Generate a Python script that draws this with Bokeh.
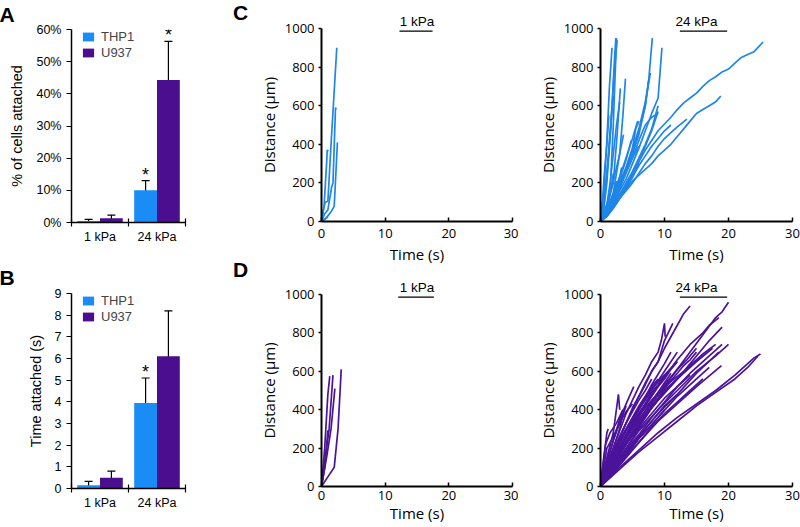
from bokeh.plotting import figure
from bokeh.layouts import row, column
from bokeh.models import (Range1d, FixedTicker, ColumnDataSource, Whisker, TeeHead,
                          Legend, LegendItem, PrintfTickFormatter, Div)
from bokeh.embed import file_html
from bokeh.resources import INLINE
from bokeh.core.properties import value

# ---------------- data ----------------
stiffness = ["1 kPa", "24 kPa"]
cell_lines = ["THP1", "U937"]
panel_letters = ["A", "B", "C", "D"]

pct_thp1 = [0.5, 10.0]
pct_thp1_err = [0.5, 3.0]
pct_u937 = [1.3, 44.3]
pct_u937_err = [1.0, 12.0]
pct_thp1_star = [False, True]
pct_u937_star = [False, True]

time_thp1 = [0.15, 3.95]
time_thp1_err = [0.18, 1.15]
time_u937 = [0.5, 6.1]
time_u937_err = [0.3, 2.1]
time_thp1_star = [False, True]
time_u937_star = [False, False]

pct_ticks = [0, 10, 20, 30, 40, 50, 60]
time_ticks = [0, 1, 2, 3, 4, 5, 6, 7, 8, 9]
dist_ticks = [0, 200, 400, 600, 800, 1000]
t_ticks = [0, 10, 20, 30]

# THP1 on 1 kPa
thp1_1_t = [
    [0, 0.3, 0.6, 1.0, 1.5, 2.4],
    [0, 0.4, 0.8, 0.9, 1.1],
    [0, 0.5, 1.0, 1.6, 1.8, 2.2, 2.3],
    [0, 0.8, 1.5, 2.0, 2.5],
    [0, 0.5, 1.0],
]
thp1_1_d = [
    [0, 60, 100, 105, 400, 900],
    [0, 80, 300, 370, 365],
    [0, 40, 60, 180, 200, 590, 580],
    [0, 20, 50, 80, 410],
    [0, 10, 25],
]

# THP1 on 24 kPa
thp1_24_t = [
    [0, 0.5, 1.0, 1.4, 1.8],
    [0, 0.6, 1.2, 1.8, 2.2, 2.4],
    [0, 0.5, 1.0, 1.6, 2.1, 2.6],
    [0, 0.8, 1.5, 2.0, 2.5],
    [0, 1.0, 2.0, 2.6, 3.1],
    [0, 1.0, 2.0, 3.0, 3.5, 3.9],
    [0, 1.0, 2.0, 3.0, 3.3],
    [0, 1, 2, 3, 4, 5, 6, 7, 7.5, 8.1],
    [0, 1, 2, 3, 4, 5, 6, 7, 8, 9, 9.6],
    [0, 1, 2, 3, 4, 5, 6, 7, 7.8],
    [0, 1, 2, 3, 4, 5, 6, 7, 7.5],
    [0, 1, 2, 3, 4, 5, 6, 7, 8, 9],
    [0, 1, 2, 3, 4, 5, 6, 7, 8, 9],
    [0, 1, 2, 3, 4, 5, 5.5, 6],
    [0, 1, 2, 3, 4, 5, 6, 7, 8, 9, 10, 11, 12, 13, 14, 15, 16, 17, 18, 19, 20, 21, 22, 23, 24, 25.4],
    [0, 1, 2, 3, 4, 5, 6, 7, 8, 9, 10, 11, 12, 13, 14, 15, 16, 17, 18, 18.8],
    [0, 1, 2, 3, 4, 5, 6, 7, 8, 9, 10, 11, 12, 13.5],
    [0, 1, 2, 3, 4, 5, 6, 7, 8, 9, 10, 11],
    [0, 1, 2, 3, 4, 5, 6],
    [0, 0.5, 1, 1.5, 2, 2.5, 3],
    [0, 0.5, 1.0, 1.5, 2.0],
    [0, 0.3, 0.6, 1.0, 1.3],
    [0, 1, 2, 3, 4, 5, 5.8],
    [0, 1, 2, 3, 4, 5, 6],
    [0, 1, 2, 3, 4, 4.8],
    [0, 1, 2, 3, 3.6],
    [0, 0.5, 1, 2, 2.8],
    [0, 1, 2, 3, 4, 5, 6, 7, 8, 9],
    [0, 0.3, 0.7, 1.2, 1.6, 2.0],
    [0, 0.4, 0.9, 1.4, 2.0, 2.5],
    [0, 0.5, 1.2, 2.0, 2.8, 3.4],
]
thp1_24_d = [
    [0, 150, 420, 700, 900],
    [0, 120, 330, 600, 850, 950],
    [0, 60, 200, 480, 760, 940],
    [0, 40, 150, 500, 950],
    [0, 80, 200, 450, 690],
    [0, 60, 150, 350, 550, 740],
    [0, 50, 130, 230, 280],
    [0, 40, 100, 180, 260, 360, 470, 600, 720, 950],
    [0, 30, 90, 160, 220, 300, 380, 470, 560, 640, 900],
    [0, 50, 110, 200, 280, 380, 480, 620, 770],
    [0, 40, 120, 190, 270, 350, 450, 600, 730],
    [0, 30, 80, 140, 200, 260, 330, 400, 480, 600],
    [0, 25, 70, 120, 180, 240, 310, 390, 470, 570],
    [0, 50, 120, 200, 280, 380, 480, 520],
    [0, 40, 90, 140, 190, 250, 310, 370, 420, 470, 505, 540, 580, 615, 640, 665, 700, 730, 750, 775, 790, 820, 850, 865, 880, 930],
    [0, 35, 70, 120, 170, 210, 240, 270, 300, 340, 370, 400, 440, 480, 520, 560, 580, 600, 620, 650],
    [0, 40, 80, 120, 160, 200, 250, 300, 340, 390, 430, 460, 490, 530],
    [0, 45, 90, 140, 180, 230, 290, 340, 390, 430, 470, 500],
    [0, 40, 100, 180, 260, 330, 390],
    [0, 30, 90, 200, 350, 500, 620],
    [0, 80, 250, 450, 650],
    [0, 100, 250, 400, 550],
    [0, 60, 140, 230, 330, 430, 520],
    [0, 30, 70, 120, 170, 230, 300],
    [0, 60, 130, 220, 320, 420],
    [0, 90, 210, 350, 450],
    [0, 20, 50, 120, 200],
    [0, 40, 100, 170, 250, 330, 420, 500, 540, 560],
    [0, 20, 45, 90, 160, 250],
    [0, 15, 40, 80, 140, 210],
    [0, 25, 60, 110, 180, 240],
]

# U937 on 1 kPa
u937_1_t = [
    [0, 0.5, 1.0, 1.3],
    [0, 0.6, 1.2, 1.8],
    [0, 0.8, 1.5, 2.1],
    [0, 1.0, 2.0, 2.6, 3.1],
    [0, 0.5, 1.0, 1.2],
]
u937_1_d = [
    [0, 200, 480, 575],
    [0, 150, 300, 580],
    [0, 150, 300, 510],
    [0, 50, 100, 300, 610],
    [0, 100, 290, 290],
]

# U937 on 24 kPa
u937_24_t = [
    [0, 1, 2, 3, 4, 5, 6, 7, 8, 9, 10, 11, 12, 13, 14],
    [0, 1, 2, 3, 4, 5, 6, 7, 8, 9, 9.5, 10, 10.1],
    [0, 1, 2, 3, 4, 5, 6, 7, 8, 9, 10, 11.3],
    [0, 2, 4, 6, 8, 10, 12, 14, 16, 18, 19, 20],
    [0, 2, 4, 6, 8, 10, 12, 14, 16, 17, 18.5],
    [0, 3, 6, 9, 12, 15, 17, 19],
    [0, 3, 6, 9, 12, 15, 18, 20],
    [0, 3, 6, 9, 12, 15, 17.5],
    [0, 3, 6, 9, 12, 15, 18.5],
    [0, 3, 6, 9, 12, 15, 18.9],
    [0, 3, 6, 9, 12, 15, 18, 21, 23, 24, 25],
    [0, 3, 6, 9, 12, 15, 18, 21, 23, 24.6],
    [0, 1, 2, 2.8, 3.0],
    [0, 1, 2, 3, 4, 5.2],
    [0, 0.5, 1.0, 1.2],
    [0, 1, 2, 3, 3.5],
    [0, 2, 4, 6, 8, 10, 13],
    [0, 2, 4, 6, 8, 10, 12],
    [0, 2, 4, 6, 8, 10, 12, 14, 16],
    [0, 2, 4, 6, 8, 10, 12, 14],
    [0, 1, 2, 3, 4, 5, 6, 7, 8],
    [0, 2, 4, 6, 8, 10, 11],
    [0, 2, 4, 6, 8, 10, 12],
    [0, 1, 2, 3, 4, 5, 6, 7],
    [0, 1, 2, 3, 4, 5, 6, 7, 8, 9],
    [0, 2, 4, 6, 8, 10, 12, 14, 16],
    [0, 1, 2, 3, 4, 5],
    [0, 0.8, 1.5, 2.5, 3.5],
    [0, 2, 4, 6, 8, 10, 12, 14, 16, 18],
    [0, 3, 6, 9, 12, 15, 17],
    [0, 1, 2, 3, 4, 5, 6],
    [0, 2, 4, 6, 8, 10],
    [0, 2, 4, 6, 8, 10, 12],
    [0, 2, 4, 6, 8, 10, 11],
    [0, 1, 2, 3, 4, 5, 6, 7, 8, 9, 10, 11, 12],
    [0, 1.5, 3, 4.5, 6, 7.5, 9, 10.5, 12, 13.5, 15],
    [0, 1, 2, 3, 4],
    [0, 1, 2, 3, 4, 5, 6, 7, 8, 9, 10],
    [0, 2, 4, 6, 8, 10, 12, 14, 16, 18, 19],
    [0, 1, 2, 3, 4, 5, 6, 7, 8, 9, 10, 11, 12, 13, 14, 15],
]
u937_24_d = [
    [0, 100, 180, 260, 330, 410, 470, 540, 600, 650, 720, 780, 840, 900, 940],
    [0, 110, 200, 290, 380, 450, 520, 580, 650, 700, 760, 850, 780],
    [0, 90, 170, 250, 330, 400, 470, 530, 600, 650, 760, 850],
    [0, 120, 230, 330, 430, 520, 610, 700, 790, 880, 910, 960],
    [0, 140, 260, 380, 480, 570, 660, 740, 800, 840, 880],
    [0, 170, 330, 450, 560, 680, 760, 830],
    [0, 150, 290, 400, 500, 600, 680, 740],
    [0, 180, 330, 450, 560, 650, 720],
    [0, 140, 260, 380, 480, 590, 700],
    [0, 120, 230, 340, 430, 520, 630],
    [0, 100, 190, 280, 360, 430, 500, 580, 640, 670, 690],
    [0, 90, 180, 260, 340, 420, 490, 560, 620, 680],
    [0, 150, 280, 480, 400],
    [0, 120, 240, 350, 430, 520],
    [0, 150, 280, 300],
    [0, 100, 200, 300, 380],
    [0, 140, 260, 370, 450, 520, 600],
    [0, 160, 300, 410, 510, 580, 650],
    [0, 70, 150, 230, 310, 380, 440, 500, 560],
    [0, 100, 200, 300, 380, 460, 520, 580],
    [0, 90, 180, 260, 330, 390, 450, 500, 560],
    [0, 130, 250, 350, 440, 540, 590],
    [0, 90, 170, 260, 340, 420, 480],
    [0, 60, 130, 200, 260, 320, 380, 420],
    [0, 80, 170, 240, 300, 360, 420, 470, 520, 560],
    [0, 110, 220, 310, 410, 500, 560, 630, 690],
    [0, 200, 260, 330, 390, 430],
    [0, 220, 280, 330, 400],
    [0, 110, 220, 310, 410, 500, 560, 630, 690, 740],
    [0, 130, 250, 360, 470, 560, 620],
    [0, 50, 110, 170, 220, 280, 330],
    [0, 80, 160, 250, 320, 400],
    [0, 150, 290, 400, 500, 600, 700],
    [0, 130, 270, 400, 530, 640, 700],
    [0, 70, 130, 200, 250, 310, 360, 420, 470, 520, 560, 610, 650],
    [0, 90, 180, 260, 340, 420, 490, 550, 610, 660, 720],
    [0, 130, 240, 330, 420],
    [0, 60, 140, 200, 270, 330, 380, 430, 490, 530, 580],
    [0, 100, 190, 270, 360, 440, 520, 590, 650, 710, 740],
    [0, 55, 110, 165, 220, 270, 320, 370, 420, 460, 510, 550, 590, 630, 660, 700],
]

# ---------------- style ----------------
BLUE = "#1a8cf5"
PURPLE = "#4a0e8f"
LINE_BLUE = "#1f86e8"
LINE_PURPLE = "#4b139a"
ARIAL = "Liberation Sans"
SEGOE = "Open Sans"


def style_common(p):
    p.toolbar.logo = None
    p.outline_line_color = None
    p.xgrid.grid_line_color = None
    p.ygrid.grid_line_color = None
    p.background_fill_color = "white"
    p.border_fill_color = "white"


def letter_div(letter, width, height, pad_left):
    html = ('<div style="font-family:\'Liberation Sans\',Arial,sans-serif;font-weight:bold;'
            'font-size:21px;line-height:26px;color:black;margin:0;'
            'padding-left:%dpx;padding-top:0px;">%s</div>' % (pad_left, letter))
    return Div(text=html, width=width, height=height, margin=0)


def bar_panel(v1, e1, s1, v2, e2, s2, ymax, ticks, fmt, ylabel, letter, letter_up,
              width, height, bl, br, bt, bb, star_size):
    p = figure(width=width, height=height, output_backend="svg", toolbar_location=None,
               x_range=Range1d(0, len(stiffness)), y_range=Range1d(0, ymax),
               min_border_left=bl, min_border_right=br, min_border_top=bt,
               min_border_bottom=bb)
    style_common(p)
    # panel letter as the figure title, pushed to the left edge of the canvas
    p.title.text = letter
    p.title.align = "left"
    p.title.offset = -(bl + 1)
    p.title.standoff = letter_up
    p.title.vertical_align = "top"
    p.title.text_font = ARIAL
    p.title.text_font_size = "21px"
    p.title.text_font_style = "bold"
    p.title.text_color = "black"
    centers = [i + 0.5 for i in range(len(stiffness))]
    items = []
    for vals, errs, stars, off, col, name in (
            (v1, e1, s1, -0.2, BLUE, cell_lines[0]),
            (v2, e2, s2, 0.2, PURPLE, cell_lines[1])):
        xs = [c + off for c in centers]
        src = ColumnDataSource(dict(x=xs, top=vals,
                                    upper=[v + e for v, e in zip(vals, errs)],
                                    lower=[max(v - e, 0) for v, e in zip(vals, errs)]))
        r = p.vbar(x="x", top="top", width=0.4, source=src, fill_color=col,
                   line_color=None)
        items.append(LegendItem(label=name, renderers=[r]))
        p.add_layout(Whisker(source=src, base="x", upper="upper", lower="lower",
                             line_color="black", line_width=1.2,
                             upper_head=TeeHead(size=8, line_color="black", line_width=1.2),
                             lower_head=TeeHead(size=8, line_color="black", line_width=1.2)))
        sx = [x for x, s in zip(xs, stars) if s]
        sy = [v + e for v, e, s in zip(vals, errs, stars) if s]
        if sx:
            p.text(x=sx, y=sy, text=["*"] * len(sx), text_align="center",
                   text_baseline="bottom", text_font=value(ARIAL),
                   text_font_size=star_size, text_color="black", y_offset=4)
    fh = height - bt - bb
    legend = Legend(items=items, location=(10, fh - 31), background_fill_alpha=0,
                    border_line_color=None, glyph_width=14, glyph_height=11,
                    label_text_font=ARIAL, label_text_font_size="13px",
                    label_standoff=6, spacing=1, padding=2, margin=0)
    p.add_layout(legend)
    # axes
    p.yaxis.ticker = FixedTicker(ticks=ticks)
    p.yaxis.formatter = PrintfTickFormatter(format=fmt)
    p.yaxis.axis_label = ylabel
    p.xaxis.ticker = FixedTicker(ticks=centers, minor_ticks=[0, 1, 2])
    p.xaxis.major_label_overrides = {c: s for c, s in zip(centers, stiffness)}
    for ax in (p.xaxis[0], p.yaxis[0]):
        ax.axis_line_color = "black"
        ax.axis_line_width = 1.5
        ax.major_label_text_font = ARIAL
        ax.major_label_text_font_size = "12.5px"
        ax.major_label_text_color = "black"
        ax.axis_label_text_font = ARIAL
        ax.axis_label_text_font_size = "14.5px"
        ax.axis_label_text_font_style = "normal"
        ax.axis_label_text_color = "black"
    p.yaxis.major_tick_out = 5
    p.yaxis.major_tick_in = 0
    p.yaxis.minor_tick_line_color = None
    p.yaxis.major_tick_line_color = "black"
    p.yaxis.major_tick_line_width = 1.2
    p.yaxis.axis_label_standoff = 8
    p.xaxis.major_tick_in = 0
    p.xaxis.major_tick_out = 0
    p.xaxis.minor_tick_in = 4
    p.xaxis.minor_tick_out = 4
    p.xaxis.minor_tick_line_color = "black"
    p.xaxis.minor_tick_line_width = 1.2
    p.xaxis.major_label_standoff = 3
    return p


def traj_panel(ts, ds, color, title, title_shift, half_w,
               width, height, bl, br, bt, bb, lab_so, axlab_so):
    p = figure(width=width, height=height, output_backend="svg", toolbar_location=None,
               x_range=Range1d(0, 30), y_range=Range1d(0, 1000),
               min_border_left=bl, min_border_right=br, min_border_top=bt,
               min_border_bottom=bb)
    style_common(p)
    p.multi_line(xs=ts, ys=ds, line_color=color, line_width=1.7)
    p.xaxis.ticker = FixedTicker(ticks=t_ticks)
    p.yaxis.ticker = FixedTicker(ticks=dist_ticks)
    p.xaxis.axis_label = "Time (s)"
    p.yaxis.axis_label = "Distance (μm)"
    for ax in (p.xaxis[0], p.yaxis[0]):
        ax.axis_line_color = "black"
        ax.axis_line_width = 2
        ax.major_tick_line_color = "black"
        ax.major_tick_line_width = 1.5
        ax.minor_tick_line_color = None
        ax.major_label_text_font = SEGOE
        ax.major_label_text_font_size = "13px"
        ax.major_label_text_color = "black"
        ax.axis_label_text_font = SEGOE
        ax.axis_label_text_font_size = "15px"
        ax.axis_label_text_font_style = "normal"
        ax.axis_label_text_color = "black"
    p.xaxis.major_tick_in = 4
    p.xaxis.major_tick_out = 0
    p.yaxis.major_tick_in = 0
    p.yaxis.major_tick_out = 3
    p.xaxis.major_label_standoff = lab_so
    p.yaxis.major_label_standoff = 4
    p.xaxis.axis_label_standoff = axlab_so
    p.yaxis.axis_label_standoff = 3
    # underlined panel title (title above the frame, underline just inside it)
    p.title.text = title
    p.title.align = "center"
    p.title.offset = title_shift
    p.title.standoff = 0
    p.title.text_font = ARIAL
    p.title.text_font_size = "13.5px"
    p.title.text_font_style = "normal"
    p.title.text_color = "black"
    fw = width - bl - br
    cx = 15 + title_shift * 30 / fw
    p.segment(x0=[cx - half_w], x1=[cx + half_w], y0=[986], y1=[986],
              line_color="black", line_width=1.3)
    return p


pA = bar_panel(pct_thp1, pct_thp1_err, pct_thp1_star, pct_u937, pct_u937_err,
               pct_u937_star, 60, pct_ticks, "%d%%", "% of cells attached",
               panel_letters[0], 3, 222, 262, 71, 37, 29, 40, "18px")
pB = bar_panel(time_thp1, time_thp1_err, time_thp1_star, time_u937, time_u937_err,
               time_u937_star, 9, time_ticks, "%d", "Time attached (s)",
               panel_letters[1], 6, 222, 264, 71, 37, 31, 38, "18px")

pCL = traj_panel(thp1_1_t, thp1_1_d, LINE_BLUE, stiffness[0], -1, 2.6,
                 263, 266, 61, 6, 28, 45, 7, 3)
pDL = traj_panel(u937_1_t, u937_1_d, LINE_PURPLE, stiffness[0], -1, 2.8,
                 263, 260, 61, 6, 28, 40, 4, 0)
pCR = traj_panel(thp1_24_t, thp1_24_d, LINE_BLUE, stiffness[1], 7, 3.7,
                 282, 266, 82, 8, 28, 45, 7, 3)
pDR = traj_panel(u937_24_t, u937_24_d, LINE_PURPLE, stiffness[1], 7, 3.7,
                 282, 260, 82, 8, 28, 40, 4, 0)

col_ab = column(pA, pB, spacing=0)
col_cd = column(letter_div(panel_letters[2], 33, 257, 11),
                letter_div(panel_letters[3], 33, 269, 11), spacing=0)
layout = row(col_ab, col_cd, column(pCL, pDL, spacing=0),
             column(pCR, pDR, spacing=0), spacing=0)

open("out.html", "w").write(file_html(layout, INLINE))
